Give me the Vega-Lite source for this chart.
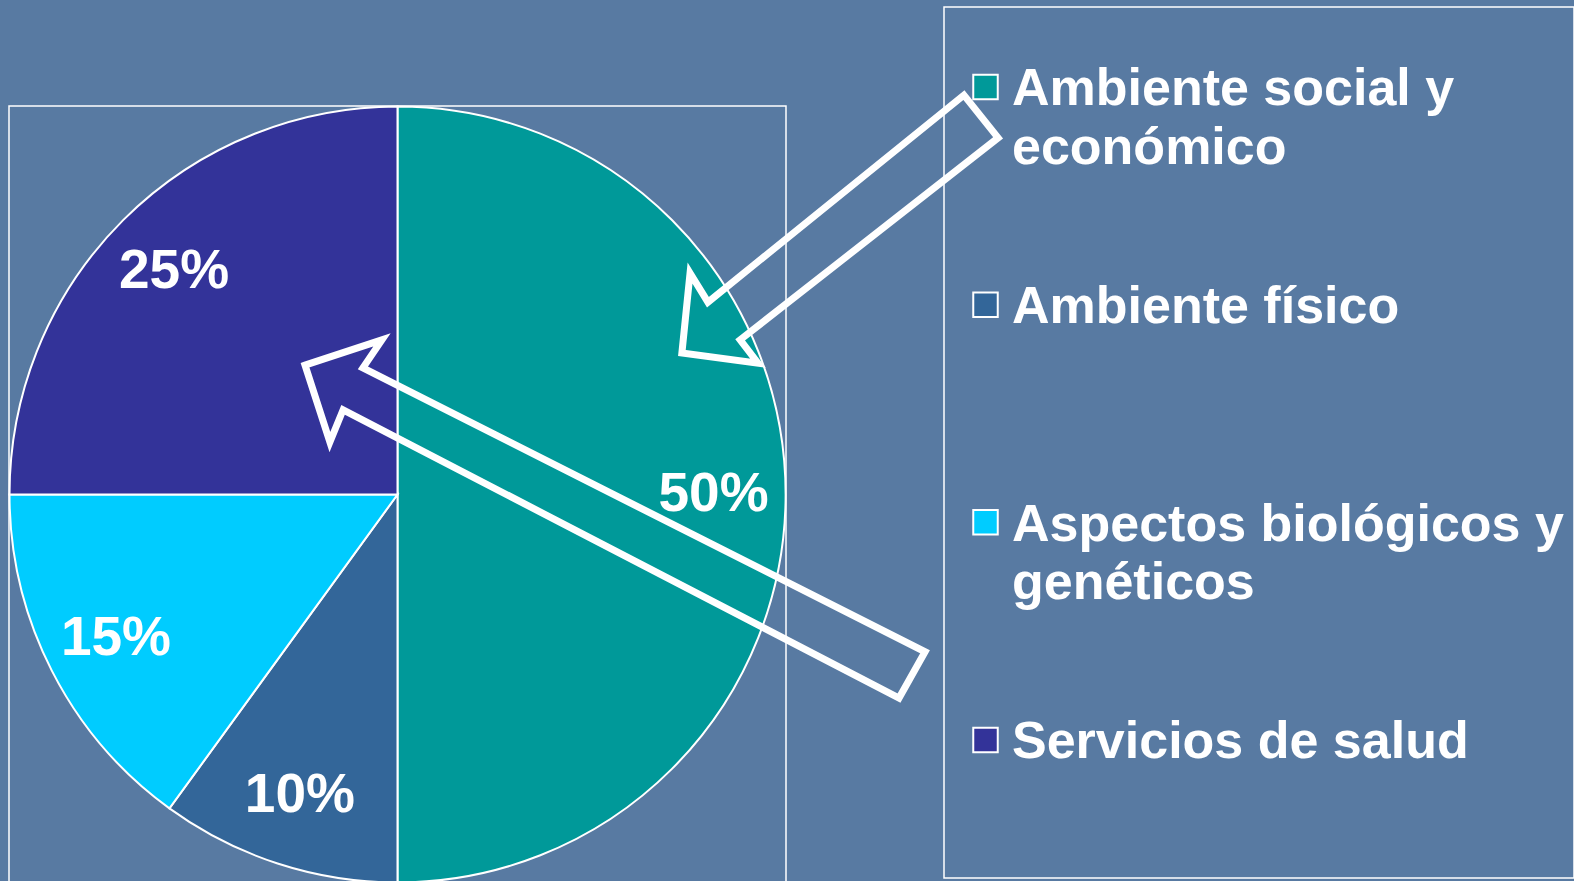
{
  "$schema": "https://vega.github.io/schema/vega-lite/v6.json",
  "background": "#587aa2",
  "padding": {"left": 5, "top": 6, "right": 0, "bottom": 0},
  "config": {
    "view": {"stroke": "white", "strokeWidth": 1.5},
    "font": "Liberation Sans"
  },
  "datasets": {
    "slices": [
      {"k": 1, "cat": "Ambiente social y económico", "v": 50, "pct": "50%"},
      {"k": 2, "cat": "Ambiente físico", "v": 10, "pct": "10%"},
      {"k": 3, "cat": "Aspectos biológicos y genéticos", "v": 15, "pct": "15%"},
      {"k": 4, "cat": "Servicios de salud", "v": 25, "pct": "25%"}
    ],
    "legend": [
      {"k": 1, "cat": "Ambiente social y económico", "line1": "Ambiente social y", "line2": "económico"},
      {"k": 2, "cat": "Ambiente físico", "line1": "Ambiente físico", "line2": ""},
      {"k": 3, "cat": "Aspectos biológicos y genéticos", "line1": "Aspectos biológicos y", "line2": "genéticos"},
      {"k": 4, "cat": "Servicios de salud", "line1": "Servicios de salud", "line2": ""}
    ],
    "arrows": [
      {"arrow": "A", "i": 1, "u": 1.458, "v": 1.028},
      {"arrow": "A", "i": 2, "u": 1.546, "v": 0.918},
      {"arrow": "A", "i": 3, "u": 0.882, "v": 0.398},
      {"arrow": "A", "i": 4, "u": 0.928, "v": 0.338},
      {"arrow": "A", "i": 5, "u": 0.732, "v": 0.364},
      {"arrow": "A", "i": 6, "u": 0.753, "v": 0.570},
      {"arrow": "A", "i": 7, "u": 0.799, "v": 0.495},
      {"arrow": "B", "i": 1, "u": -0.238, "v": 0.333},
      {"arrow": "B", "i": 2, "u": -0.040, "v": 0.398},
      {"arrow": "B", "i": 3, "u": -0.089, "v": 0.326},
      {"arrow": "B", "i": 4, "u": 1.358, "v": -0.405},
      {"arrow": "B", "i": 5, "u": 1.291, "v": -0.524},
      {"arrow": "B", "i": 6, "u": -0.140, "v": 0.218},
      {"arrow": "B", "i": 7, "u": -0.174, "v": 0.135}
    ]
  },
  "hconcat": [
    {
      "width": 777,
      "height": 874,
      "view": {"stroke": null},
      "layer": [
        {
          "data": {"values": [{"frame": "pie"}]},
          "mark": {"type": "rect", "fill": null, "stroke": "white", "strokeWidth": 1.5, "clip": false},
          "encoding": {
            "x": {"datum": -1, "type": "quantitative", "axis": null, "scale": {"domain": [-1, 1], "nice": false, "zero": false}},
            "x2": {"datum": 1},
            "y": {"datum": 1, "type": "quantitative", "axis": null, "scale": {"domain": [-0.9949, 1.2548], "nice": false, "zero": false}},
            "y2": {"datum": -1.02}
          }
        },
        {
          "data": {"name": "slices"},
          "mark": {"type": "arc", "outerRadius": 388, "stroke": "white", "strokeWidth": 2},
          "encoding": {
            "x": {"datum": 0, "type": "quantitative"},
            "y": {"datum": 0, "type": "quantitative"},
            "theta": {"field": "v", "type": "quantitative", "stack": true},
            "order": {"field": "k", "type": "quantitative"},
            "color": {
              "field": "cat",
              "type": "nominal",
              "legend": null,
              "scale": {
                "domain": ["Ambiente social y económico", "Ambiente físico", "Aspectos biológicos y genéticos", "Servicios de salud"],
                "range": ["#009999", "#336699", "#00ccff", "#333399"]
              }
            }
          }
        },
        {
          "data": {"name": "slices"},
          "mark": {"type": "text", "radius": 316, "fontSize": 55, "fontWeight": "bold", "fill": "white", "font": "Liberation Sans"},
          "encoding": {
            "x": {"datum": 0, "type": "quantitative"},
            "y": {"datum": 0, "type": "quantitative"},
            "theta": {"field": "v", "type": "quantitative", "stack": true},
            "order": {"field": "k", "type": "quantitative"},
            "detail": {"field": "cat", "type": "nominal"},
            "text": {"field": "pct", "type": "nominal"}
          }
        },
        {
          "data": {"name": "arrows"},
          "mark": {"type": "line", "interpolate": "linear-closed", "stroke": "white", "strokeWidth": 7, "strokeJoin": "miter", "clip": false},
          "encoding": {
            "x": {"field": "u", "type": "quantitative"},
            "y": {"field": "v", "type": "quantitative"},
            "detail": {"field": "arrow", "type": "nominal"},
            "order": {"field": "i", "type": "quantitative"}
          }
        }
      ]
    },
    {
      "width": 630,
      "height": 871,
      "data": {"name": "legend"},
      "encoding": {
        "x": {"datum": 0, "type": "quantitative", "axis": null, "scale": {"domain": [-1, 14.18], "nice": false, "zero": false}},
        "y": {"field": "k", "type": "quantitative", "axis": null, "scale": {"domain": [0.6325, 4.634], "reverse": true, "nice": false, "zero": false}}
      },
      "layer": [
        {
          "mark": {"type": "point", "shape": "square", "size": 600, "filled": true, "stroke": "white", "strokeWidth": 2, "opacity": 1},
          "encoding": {
            "fill": {
              "field": "cat",
              "type": "nominal",
              "legend": null,
              "scale": {
                "domain": ["Ambiente social y económico", "Ambiente físico", "Aspectos biológicos y genéticos", "Servicios de salud"],
                "range": ["#009999", "#336699", "#00ccff", "#333399"]
              }
            }
          }
        },
        {
          "mark": {"type": "text", "align": "left", "baseline": "alphabetic", "dx": 26.5, "dy": 18.5, "fontSize": 52, "fontWeight": "bold", "fill": "white", "font": "Liberation Sans"},
          "encoding": {"text": {"field": "line1", "type": "nominal"}}
        },
        {
          "mark": {"type": "text", "align": "left", "baseline": "alphabetic", "dx": 26.5, "dy": 77, "fontSize": 52, "fontWeight": "bold", "fill": "white", "font": "Liberation Sans"},
          "encoding": {"text": {"field": "line2", "type": "nominal"}}
        }
      ]
    }
  ],
  "spacing": 158,
  "bounds": "flush"
}
